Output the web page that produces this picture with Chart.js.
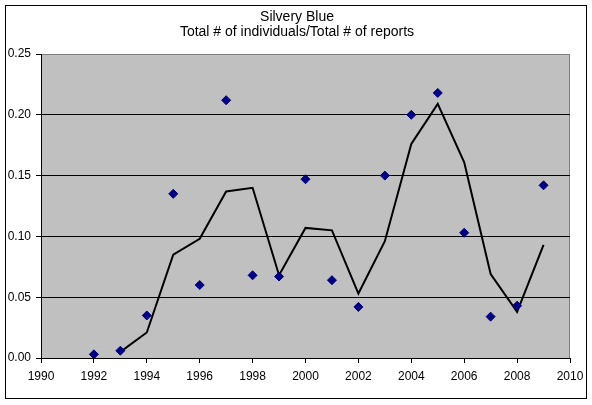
<!DOCTYPE html>
<html>
<head>
<meta charset="utf-8">
<script src="https://cdn.jsdelivr.net/npm/chart.js@4/dist/chart.umd.min.js"></script>
<style>
  html, body { margin: 0; padding: 0; background: #fff; }
  #wrap { width: 592px; height: 405px; }
</style>
</head>
<body>
<div id="wrap"><canvas id="chart" width="592" height="405"></canvas></div>
<script>
// values
const years = [1992, 1993, 1994, 1995, 1996, 1997, 1998, 1999, 2000, 2001,
  2002, 2003, 2004, 2005, 2006, 2007, 2008, 2009];
const ratio = [0.003, 0.006, 0.035, 0.135, 0.060, 0.212, 0.068, 0.067, 0.147, 0.064,
  0.042, 0.150, 0.200, 0.218, 0.103, 0.034, 0.043, 0.142];

// trend line (2 period moving average) as drawn
const trendYears = [1993, 1994, 1995, 1996, 1997, 1998, 1999, 2000, 2001,
  2002, 2003, 2004, 2005, 2006, 2007, 2008, 2009];
const trend = [0.005, 0.021, 0.085, 0.098, 0.137, 0.140, 0.068, 0.107, 0.105,
  0.053, 0.096, 0.176, 0.209, 0.161, 0.069, 0.038, 0.093];

const titleLines = ["Silvery Blue", "Total # of individuals/Total # of reports"];
const xTicks = [1990, 1992, 1994, 1996, 1998, 2000, 2002, 2004, 2006, 2008, 2010];
const yTicks = [0, 0.05, 0.10, 0.15, 0.20, 0.25];

const FONT = "'Liberation Sans', Arial, sans-serif";

// gray plot area, outer frame and title
const frame = {
  id: "frame",
  beforeDraw(chart) {
    const { ctx, chartArea: a } = chart;
    ctx.save();
    ctx.fillStyle = "#fff";
    ctx.fillRect(0, 0, chart.width, chart.height);
    ctx.fillStyle = "#c0c0c0";
    ctx.fillRect(a.left, a.top, a.right - a.left, a.bottom - a.top);
    ctx.strokeStyle = "#808080";
    ctx.lineWidth = 1;
    ctx.strokeRect(a.left + 0.5, a.top + 0.5, a.right - a.left - 1, a.bottom - a.top);
    ctx.strokeStyle = "#000";
    ctx.strokeRect(5.5, 5.5, 581, 393);
    ctx.fillStyle = "#000";
    ctx.font = "14px " + FONT;
    ctx.textAlign = "center";
    ctx.textBaseline = "middle";
    ctx.fillText(titleLines[0], 297, 17);
    ctx.fillText(titleLines[1], 297, 32);
    ctx.restore();
  },
};

new Chart(document.getElementById("chart"), {
  type: "scatter",
  data: {
    datasets: [
      {
        label: "ratio",
        data: years.map((y, i) => ({ x: y, y: ratio[i] })),
        pointStyle: "rectRot",
        pointRadius: 4.5,
        pointBackgroundColor: "#000080",
        pointBorderColor: "#000080",
        pointBorderWidth: 1,
        showLine: false,
        order: 1,
      },
      {
        label: "trend",
        data: trendYears.map((y, i) => ({ x: y, y: trend[i] })),
        showLine: true,
        borderColor: "#000",
        borderWidth: 2,
        pointRadius: 0,
        fill: false,
        order: 2,
      },
    ],
  },
  options: {
    responsive: false,
    animation: false,
    devicePixelRatio: 1,
    layout: { padding: { left: 0, top: 54, right: 22, bottom: 0 } },
    plugins: {
      legend: { display: false },
      tooltip: { enabled: false },
      title: { display: false },
    },
    scales: {
      x: {
        type: "linear",
        min: 1990,
        max: 2010,
        afterBuildTicks: (s) => { s.ticks = xTicks.map((v) => ({ value: v })); },
        afterFit: (s) => { s.height = 47; },
        ticks: {
          color: "#000",
          font: { family: FONT, size: 12 },
          padding: 6,
          maxRotation: 0,
          autoSkip: false,
          callback: (v) => String(v),
        },
        grid: {
          drawOnChartArea: false,
          drawTicks: true,
          tickLength: 5,
          color: "#000",
        },
        border: { color: "#000", width: 1 },
      },
      y: {
        min: 0,
        max: 0.25,
        afterBuildTicks: (s) => { s.ticks = yTicks.map((v) => ({ value: v })); },
        afterFit: (s) => { s.width = 41; },
        ticks: {
          color: "#000",
          font: { family: FONT, size: 12 },
          padding: 5,
          callback: (v) => v.toFixed(2),
        },
        grid: {
          color: (c) => (c.tick && c.tick.value === 0.25 ? "#808080" : "#000"),
          tickColor: "#000",
          tickLength: 5,
          lineWidth: 1,
        },
        border: { color: "#000", width: 1 },
      },
    },
  },
  plugins: [frame],
});
</script>
</body>
</html>
